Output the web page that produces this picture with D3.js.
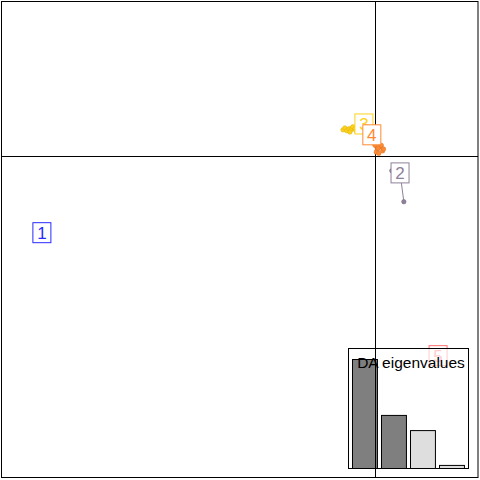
<!DOCTYPE html>
<html><head><meta charset="utf-8">
<script src="https://cdn.jsdelivr.net/npm/d3@7"></script>
<style>body{margin:0;background:#fff}svg{display:block}</style>
</head><body>
<svg id="c" width="480" height="480"></svg>
<script>
// cluster ids and colours
const clusters = ["1","2","3","4","5"];
const clusterColors = ["#2a2aff","#8f8099","#ffd21a","#ff8a33","#ff7070"];
// cluster centroids (LD1, LD2)
const centroidX = [-10.51, 0.79, -0.35, -0.10, 1.99];
const centroidY = [-2.48, -0.55, 1.03, 0.68, -6.45];
// individuals: cluster index, LD1, LD2
const indGroup = [0,0, 1,1,1, 2,2,2,2,2,2,2,2,2,2,2, 3,3,3,3,3,3,3,3,3, 4,4];
const indX = [-10.50,-10.52, 0.91,0.53,0.79, -1.01,-0.95,-0.89,-0.82,-0.76,-0.70,-0.63,-0.60,-0.79,-0.45,-0.30, 0.00,0.07,0.16,0.24,0.04,0.12,0.20,0.27,0.10];
const indY = [-2.45,-2.50, -1.48,-0.48,-0.61, 0.84,0.90,0.81,0.87,0.84,0.94,0.87,0.81,0.77,1.00,1.05, 0.34,0.19,0.29,0.16,0.12,0.08,0.34,0.22,0.25];
indX.push(1.99, 2.01);
indY.push(-6.45, -6.50);
// DA eigenvalues
const eigIndex = ["1","2","3","4"];
const eigValues = [2300, 1120, 800, 65];
const eigRetained = [true, true, false, false];

const svg = d3.select("#c");
const x = d3.scaleLinear().domain([-11.8, 3.25]).range([1, 478]);
const y = d3.scaleLinear().domain([-10.4, 5]).range([478, 1]);

// frame
svg.append("rect").attr("x",1.5).attr("y",1.5).attr("width",476.5).attr("height",476)
  .attr("fill","none").attr("stroke","#000").attr("stroke-width",1);

// axes lines through origin
svg.append("line").attr("x1",1).attr("x2",478).attr("y1",Math.round(y(0))+0.5).attr("y2",Math.round(y(0))+0.5).attr("stroke","#000");
svg.append("line").attr("y1",1).attr("y2",478).attr("x1",Math.round(x(0))+0.5).attr("x2",Math.round(x(0))+0.5).attr("stroke","#000");

// star segments
svg.append("g").selectAll("line").data(indGroup).join("line")
  .attr("x1",(g,i)=>x(centroidX[g])).attr("y1",(g,i)=>y(centroidY[g]))
  .attr("x2",(g,i)=>x(indX[i])).attr("y2",(g,i)=>y(indY[i]))
  .attr("stroke",g=>clusterColors[g]).attr("stroke-width",1);

// points
svg.append("g").selectAll("circle").data(indGroup).join("circle")
  .attr("cx",(g,i)=>x(indX[i])).attr("cy",(g,i)=>y(indY[i])).attr("r",2.2)
  .attr("fill",g=>clusterColors[g]).attr("stroke",g=>d3.color(clusterColors[g]).darker(0.4)).attr("stroke-width",0.6);

// labels
const lab = svg.append("g").selectAll("g").data(clusters).join("g")
  .attr("transform",(d,i)=>`translate(${x(centroidX[i])},${y(centroidY[i])})`);
lab.append("rect").attr("x",-9).attr("y",-10).attr("width",18).attr("height",20)
  .attr("fill","#fff").attr("stroke",(d,i)=>clusterColors[i]).attr("stroke-width",1);
lab.append("text").text(d=>d).attr("text-anchor","middle").attr("y",6.5)
  .attr("font-family","Liberation Sans, Arial, sans-serif").attr("font-size",17)
  .attr("fill",(d,i)=>clusterColors[i]);

// inset eigenvalues
const ix0 = 348, iy0 = 348, iw = 120, ih = 120;
const inset = svg.append("g");
inset.append("rect").attr("x",ix0+0.5).attr("y",iy0+0.5).attr("width",iw).attr("height",ih)
  .attr("fill","rgba(255,255,255,0.65)").attr("stroke","#000").attr("stroke-width",1);
const bx = d3.scaleBand().domain(eigIndex).range([ix0+2, ix0+iw-2]).paddingInner(0.14).paddingOuter(0.07);
const by = d3.scaleLinear().domain([0, d3.max(eigValues)]).range([iy0+ih, iy0+11]);
inset.selectAll("rect.bar").data(eigValues).join("rect").attr("class","bar")
  .attr("x",(v,i)=>Math.round(bx(eigIndex[i]))+0.5).attr("width",bx.bandwidth())
  .attr("y",v=>by(v)+0.5).attr("height",v=>by(0)-by(v))
  .attr("fill",(v,i)=>eigRetained[i]?"#7f7f7f":"#dedede").attr("stroke","#000").attr("stroke-width",1);
inset.append("text").text("DA eigenvalues").attr("x",ix0+iw/2+3).attr("y",iy0+20)
  .attr("text-anchor","middle").attr("font-family","Liberation Sans, Arial, sans-serif")
  .attr("font-size",15.5).attr("fill","#000");
// vertical axis line passes over inset
svg.append("line").attr("y1",iy0).attr("y2",478).attr("x1",Math.round(x(0))+0.5).attr("x2",Math.round(x(0))+0.5).attr("stroke","#000");
</script>
</body></html>
